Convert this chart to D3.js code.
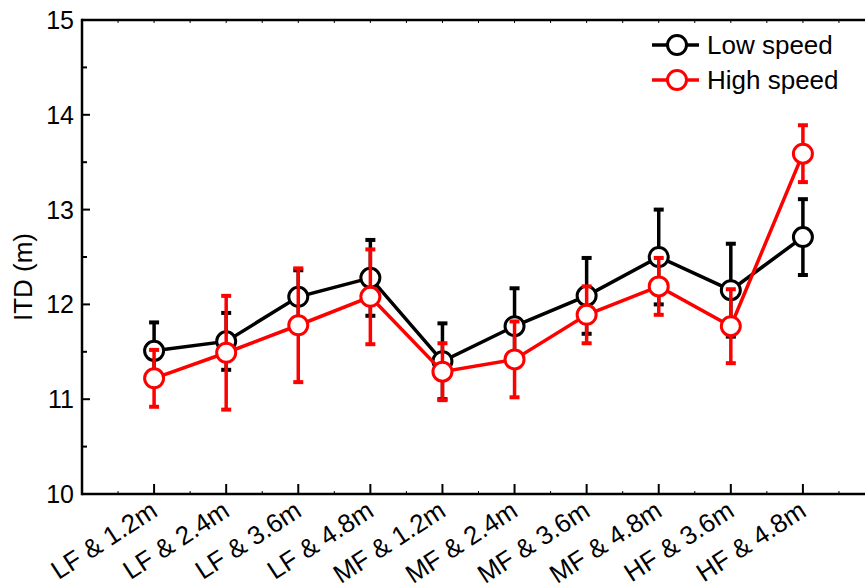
<!DOCTYPE html>
<html>
<head>
<meta charset="utf-8">
<script src="https://cdn.jsdelivr.net/npm/d3@7/dist/d3.min.js"></script>
<style>
  html, body { margin: 0; padding: 0; background: #fff; }
  svg { display: block; font-family: "Liberation Sans", Arial, sans-serif; }
</style>
</head>
<body>
<svg id="chart" width="865" height="588"></svg>
<script>
// Conditions along the x axis
const categories = ["LF & 1.2m", "LF & 2.4m", "LF & 3.6m", "LF & 4.8m", "MF & 1.2m",
                    "MF & 2.4m", "MF & 3.6m", "MF & 4.8m", "HF & 3.6m", "HF & 4.8m"];
// Mean ITD (m) and error for each speed
const lowMean  = [11.51, 11.61, 12.08, 12.28, 11.40, 11.77, 12.09, 12.50, 12.15, 12.71];
const lowErr   = [0.30, 0.30, 0.28, 0.40, 0.40, 0.40, 0.40, 0.50, 0.49, 0.40];
const highMean = [11.22, 11.49, 11.78, 12.08, 11.29, 11.42, 11.89, 12.19, 11.77, 13.59];
const highErr  = [0.30, 0.60, 0.60, 0.50, 0.30, 0.40, 0.30, 0.30, 0.39, 0.30];
const yTicks = [10, 11, 12, 13, 14, 15];
const seriesNames = ["Low speed", "High speed"];
const seriesColors = ["#000000", "#ff0000"];

const svg = d3.select("#chart");
const plotL = 82, plotR = 875, plotT = 20, plotB = 494;
const fontSize = 26;

const x = d3.scaleLinear().domain([0, categories.length + 1]).range([plotL, plotR]);
const y = d3.scaleLinear().domain([10, 15]).range([plotB, plotT]);

// Frame
const frame = svg.append("g").attr("stroke", "#000").attr("stroke-width", 2.5).attr("fill", "none");
frame.append("line").attr("x1", plotL).attr("x2", plotR).attr("y1", plotB).attr("y2", plotB);
frame.append("line").attr("x1", plotL).attr("x2", plotR).attr("y1", plotT).attr("y2", plotT);
frame.append("line").attr("x1", plotL).attr("x2", plotL).attr("y1", plotT - 1.25).attr("y2", plotB + 1.25);

// Y axis ticks (inward) and labels
const yMinor = d3.range(10.5, 15, 1);
svg.append("g").selectAll("line").data(yTicks).join("line")
  .attr("x1", plotL).attr("x2", plotL + 8)
  .attr("y1", d => y(d)).attr("y2", d => y(d))
  .attr("stroke", "#000").attr("stroke-width", 2);
svg.append("g").selectAll("line").data(yMinor).join("line")
  .attr("x1", plotL).attr("x2", plotL + 5)
  .attr("y1", d => y(d)).attr("y2", d => y(d))
  .attr("stroke", "#000").attr("stroke-width", 2);
svg.append("g").selectAll("text").data(yTicks).join("text")
  .attr("x", 74).attr("y", d => y(d)).attr("dy", "0.36em")
  .attr("text-anchor", "end").attr("font-size", 25).attr("fill", "#000")
  .text(d => d);

// Y title
svg.append("text")
  .attr("transform", "translate(32,277) rotate(-90)")
  .attr("text-anchor", "middle").attr("font-size", fontSize).attr("fill", "#000")
  .text("ITD (m)");

// X axis ticks
const idx = d3.range(1, categories.length + 1);
svg.append("g").selectAll("line").data(idx).join("line")
  .attr("x1", d => x(d)).attr("x2", d => x(d))
  .attr("y1", plotB).attr("y2", plotB - 10)
  .attr("stroke", "#000").attr("stroke-width", 2);
const xMinor = d3.range(0.5, categories.length + 1, 1);
svg.append("g").selectAll("line").data(xMinor).join("line")
  .attr("x1", d => x(d)).attr("x2", d => x(d))
  .attr("y1", plotB).attr("y2", plotB - 3)
  .attr("stroke", "#000").attr("stroke-width", 1);
svg.append("g").selectAll("line").data(d3.range(0.5, categories.length + 1, 0.5)).join("line")
  .attr("x1", d => x(d)).attr("x2", d => x(d))
  .attr("y1", plotT).attr("y2", plotT + 3)
  .attr("stroke", "#000").attr("stroke-width", 1);

// X labels, rotated
svg.append("g").selectAll("text").data(categories).join("text")
  .attr("transform", (d, i) => `translate(${x(i + 1) + 5},${plotB + 21}) rotate(-33)`)
  .attr("text-anchor", "end").attr("font-size", fontSize).attr("fill", "#000")
  .text(d => d);

// Series
const series = [
  { mean: lowMean, err: lowErr, color: seriesColors[0] },
  { mean: highMean, err: highErr, color: seriesColors[1] }
];
const line = d3.line().x((d, i) => x(i + 1)).y(d => y(d));

series.forEach(s => {
  const g = svg.append("g");
  // error bars
  s.mean.forEach((m, i) => {
    const cx = x(i + 1);
    const y0 = y(m - s.err[i]), y1 = y(m + s.err[i]);
    g.append("line").attr("x1", cx).attr("x2", cx).attr("y1", y0).attr("y2", y1)
      .attr("stroke", s.color).attr("stroke-width", 3.5);
    [y0, y1].forEach(yy => g.append("line")
      .attr("x1", cx - 5).attr("x2", cx + 5).attr("y1", yy).attr("y2", yy)
      .attr("stroke", s.color).attr("stroke-width", 4));
  });
  g.append("path").datum(s.mean).attr("d", line)
    .attr("fill", "none").attr("stroke", s.color).attr("stroke-width", 3.5);
  g.selectAll("circle").data(s.mean).join("circle")
    .attr("cx", (d, i) => x(i + 1)).attr("cy", d => y(d)).attr("r", 9.5)
    .attr("fill", "#fff").attr("stroke", s.color).attr("stroke-width", 3);
});

// Legend
const legend = svg.append("g");
seriesNames.forEach((name, i) => {
  const ly = 45 + i * 35;
  legend.append("line").attr("x1", 652).attr("x2", 699).attr("y1", ly).attr("y2", ly)
    .attr("stroke", seriesColors[i]).attr("stroke-width", 3.5);
  legend.append("circle").attr("cx", 677).attr("cy", ly).attr("r", 9.5)
    .attr("fill", "#fff").attr("stroke", seriesColors[i]).attr("stroke-width", 3);
  legend.append("text").attr("x", 707).attr("y", ly).attr("dy", "0.36em")
    .attr("font-size", fontSize).attr("fill", "#000").text(name);
});
</script>
</body>
</html>
